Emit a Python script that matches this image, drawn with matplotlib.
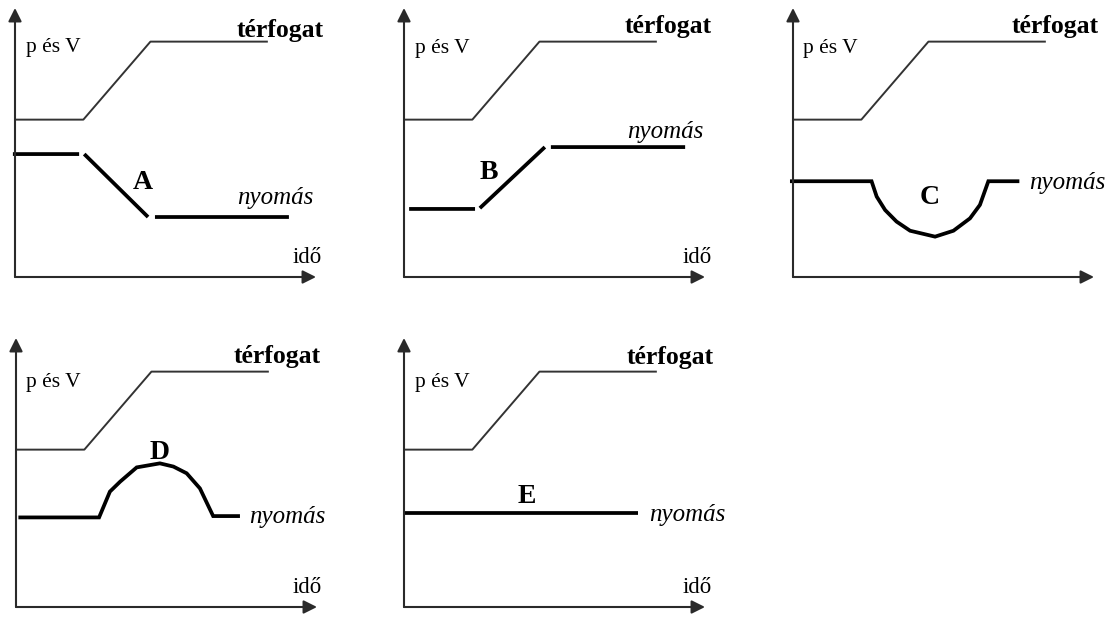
import numpy as np
import matplotlib
matplotlib.use("Agg")
import matplotlib.pyplot as plt

# ---------------- data (abstract units: time 0..100, value 0..100) ----------------
panel_names = ["A", "B", "C", "D", "E"]

volume_time = [0, 22.7, 45, 84]
volume_value = [58.5, 58.5, 87.5, 87.5]

nan = np.nan
pressure_A_time = [-0.7, 21.3, nan, 23.0, 44.2, nan, 46.5, 91.0]
pressure_A_value = [45.7, 45.7, nan, 45.7, 22.3, nan, 22.3, 22.3]

pressure_B_time = [1.7, 23.6, nan, 25.2, 46.8, nan, 48.8, 93.4]
pressure_B_value = [25.3, 25.3, nan, 25.6, 48.3, nan, 48.3, 48.3]

pressure_C_time = [-1.0, 26.1, 27.8, 30.6, 34.4, 38.9, 47.2, 53.3, 58.8, 62.1, 64.9, 75.2]
pressure_C_value = [35.6, 35.6, 29.9, 24.9, 20.6, 17.2, 15.0, 17.2, 21.8, 26.8, 35.6, 35.6]

pressure_D_time = [0.8, 27.6, 31.2, 34.6, 40.1, 47.8, 52.3, 56.7, 61.1, 65.5, 74.4]
pressure_D_value = [33.3, 33.3, 42.9, 46.6, 51.9, 53.4, 52.2, 49.7, 44.1, 33.8, 33.8]

pressure_E_time = [0, 77.7]
pressure_E_value = [34.9, 34.9]

pressure_time = {"A": pressure_A_time, "B": pressure_B_time, "C": pressure_C_time,
                 "D": pressure_D_time, "E": pressure_E_time}
pressure_value = {"A": pressure_A_value, "B": pressure_B_value, "C": pressure_C_value,
                  "D": pressure_D_value, "E": pressure_E_value}

label_volume = "térfogat"
label_pressure = "nyomás"
label_yaxis = "p és V"
label_xaxis = "idő"

# ---------------- layout ----------------
W, H = 1108, 617
fig = plt.figure(figsize=(W / 100, H / 100), dpi=100)
fig.patch.set_facecolor("white")

# panel origin in pixels (x, y from top)
origins = {"A": (15, 277), "B": (404, 277), "C": (793, 277), "D": (16, 607), "E": (404, 607)}
pw, ph = 301, 269

# text positions in panel data units
text_pos = {
    "A": dict(vol=(88, 91.8), pyv=(12.6, 85.5), let=(42.5, 35.0), pres=(86.4, 29.4), t=(97, 7.4)),
    "B": dict(vol=(87.7, 93.2), pyv=(12.6, 85.1), let=(28.2, 38.7), pres=(86.7, 54.0), t=(97.3, 7.4)),
    "C": dict(vol=(87.0, 93.2), pyv=(12.3, 85.0), let=(45.5, 29.7), pres=(91.0, 35.0), t=None),
    "D": dict(vol=(86.7, 93.2), pyv=(12.3, 83.6), let=(47.8, 57.6), pres=(90.0, 33.5), t=(96.7, 7.4)),
    "E": dict(vol=(88.4, 92.6), pyv=(12.6, 83.6), let=(40.9, 40.9), pres=(94.0, 34.2), t=(97.3, 7.4)),
}

serif = ["Liberation Serif", "DejaVu Serif"]
axis_color = "#2a2a2a"

for name in panel_names:
    ox, oy = origins[name]
    ax = fig.add_axes([ox / W, (H - oy) / H, pw / W, ph / H])
    ax.set_xlim(0, 100)
    ax.set_ylim(0, 100)
    ax.axis("off")

    # axes with arrows
    for tip in [(100, 0), (0, 100)]:
        ax.annotate("", xy=tip, xytext=(0, 0),
                    arrowprops=dict(arrowstyle="-|>", lw=1.5,
                                    mutation_scale=20, shrinkA=0, shrinkB=0,
                                    color=axis_color),
                    annotation_clip=False)

    # volume curve
    ax.plot(volume_time, volume_value, color="#333333", lw=1.4, clip_on=False,
            solid_capstyle="butt")
    # pressure curve
    ax.plot(pressure_time[name], pressure_value[name], color="black", lw=2.7,
            clip_on=False, solid_capstyle="butt", solid_joinstyle="miter")

    tp = text_pos[name]
    ax.text(*tp["vol"], label_volume, family=serif, fontweight="bold", fontsize=18.5,
            ha="center", va="center")
    ax.text(*tp["pyv"], label_yaxis, family=serif, fontsize=15.5, ha="center", va="center")
    ax.text(*tp["let"], name, family=serif, fontweight="bold", fontsize=20,
            ha="center", va="center")
    ax.text(*tp["pres"], label_pressure, family=serif, fontstyle="italic", fontsize=18,
            ha="center", va="center")
    if tp["t"] is not None:
        ax.text(*tp["t"], label_xaxis, family=serif, fontsize=16.5, ha="center", va="center")

fig.savefig("out.png", dpi=100, facecolor="white")
